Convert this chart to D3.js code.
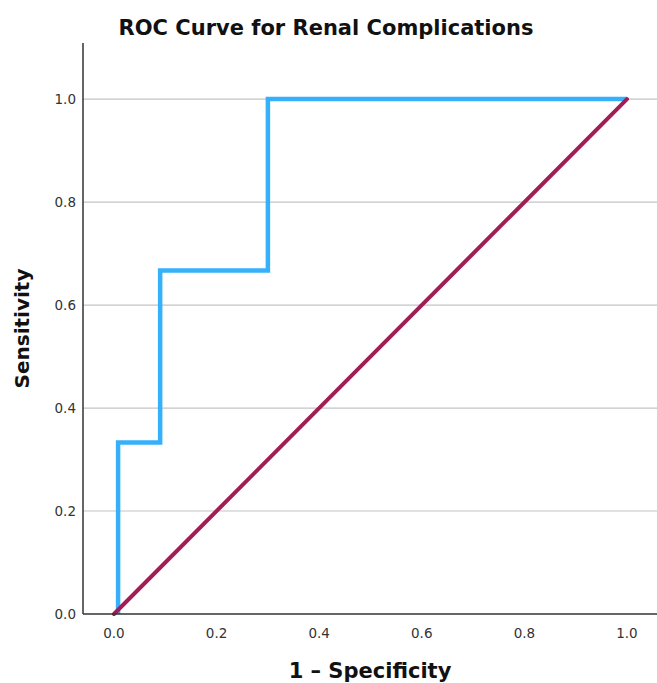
<!DOCTYPE html>
<html>
<head>
    <title>ROC Curve for Renal Complications</title>
    <script src="https://d3js.org/d3.v7.min.js"></script>
    <style>
        body {
            margin: 0;
            background-color: white;
            font-family: "DejaVu Sans", sans-serif;
        }
        .tick-label {
            font-size: 13.5px;
            fill: #333;
        }
        .axis-title {
            font-weight: bold;
            fill: #111;
        }
    </style>
</head>
<body>
    <div id="chart"></div>
    <script>
        // ROC data
        const fpr = [0.008, 0.008, 0.09, 0.09, 0.30, 0.30, 1.0];
        const tpr = [0, 0.333, 0.333, 0.667, 0.667, 1.0, 1.0];
        const refX = [0, 1];
        const refY = [0, 1];
        const tickValues = [0, 0.2, 0.4, 0.6, 0.8, 1.0];
        const tickLabels = ['0.0', '0.2', '0.4', '0.6', '0.8', '1.0'];

        const width = 657;
        const height = 683;
        const margin = { top: 43, right: 0, bottom: 69, left: 83 };

        const svg = d3.select('#chart')
            .append('svg')
            .attr('width', width)
            .attr('height', height);

        const x = d3.scaleLinear()
            .domain([-0.0604, 1.0585])
            .range([margin.left, width - margin.right]);

        const y = d3.scaleLinear()
            .domain([0, 1.109])
            .range([height - margin.bottom, margin.top]);

        // Gridlines
        svg.append('g')
            .selectAll('line')
            .data(tickValues.filter(d => d > 0))
            .enter()
            .append('line')
            .attr('x1', margin.left)
            .attr('x2', width - margin.right)
            .attr('y1', d => y(d))
            .attr('y2', d => y(d))
            .attr('stroke', '#c4c4c4')
            .attr('stroke-width', 1.2);

        // Tick labels
        svg.append('g')
            .selectAll('text')
            .data(tickValues)
            .enter()
            .append('text')
            .attr('class', 'tick-label')
            .attr('x', margin.left - 7)
            .attr('y', d => y(d))
            .attr('dy', '0.35em')
            .attr('text-anchor', 'end')
            .text((d, i) => tickLabels[i]);

        svg.append('g')
            .selectAll('text')
            .data(tickValues)
            .enter()
            .append('text')
            .attr('class', 'tick-label')
            .attr('x', d => x(d))
            .attr('y', height - margin.bottom + 24)
            .attr('text-anchor', 'middle')
            .text((d, i) => tickLabels[i]);

        // ROC step line
        const line = d3.line()
            .x(d => x(d[0]))
            .y(d => y(d[1]));

        svg.append('path')
            .datum(fpr.map((v, i) => [v, tpr[i]]))
            .attr('d', line)
            .attr('fill', 'none')
            .attr('stroke', '#36b0fb')
            .attr('stroke-width', 4.5)
            .attr('stroke-linejoin', 'miter')
            .attr('stroke-linecap', 'butt');

        // Reference diagonal
        svg.append('path')
            .datum(refX.map((v, i) => [v, refY[i]]))
            .attr('d', line)
            .attr('fill', 'none')
            .attr('stroke', '#a21d55')
            .attr('stroke-width', 4)
            .attr('stroke-linecap', 'round');

        // Axis lines
        svg.append('line')
            .attr('x1', margin.left)
            .attr('x2', margin.left)
            .attr('y1', margin.top)
            .attr('y2', height - margin.bottom)
            .attr('stroke', '#333')
            .attr('stroke-width', 1.5);

        svg.append('line')
            .attr('x1', margin.left)
            .attr('x2', width - margin.right)
            .attr('y1', height - margin.bottom)
            .attr('y2', height - margin.bottom)
            .attr('stroke', '#333')
            .attr('stroke-width', 1.5);

        // Titles
        svg.append('text')
            .attr('class', 'axis-title')
            .attr('x', 326)
            .attr('y', 35)
            .attr('text-anchor', 'middle')
            .style('font-size', '21px')
            .text('ROC Curve for Renal Complications');

        svg.append('text')
            .attr('class', 'axis-title')
            .attr('x', (margin.left + width - margin.right) / 2)
            .attr('y', 678)
            .attr('text-anchor', 'middle')
            .style('font-size', '21px')
            .text('1 \u2013 Specificity');

        svg.append('text')
            .attr('class', 'axis-title')
            .attr('transform', `translate(29, ${(margin.top + height - margin.bottom) / 2}) rotate(-90)`)
            .attr('text-anchor', 'middle')
            .style('font-size', '20px')
            .text('Sensitivity');
    </script>
</body>
</html>
